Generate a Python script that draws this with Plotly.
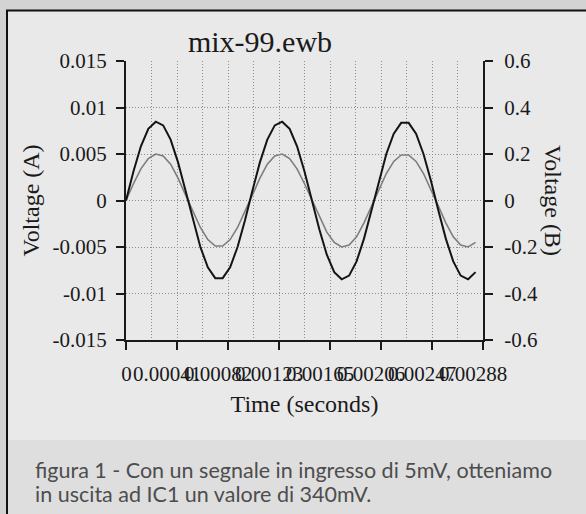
import plotly.graph_objects as go

# Simulation time samples (s)
time_s = [0.0, 0.00006, 0.00012, 0.00018, 0.00024, 0.00030, 0.00036, 0.00042,
          0.00048, 0.00054, 0.00060, 0.00066, 0.00072, 0.00078, 0.00084, 0.00090,
          0.00096, 0.00102, 0.00108, 0.00114, 0.00120, 0.00126, 0.00132, 0.00138,
          0.00144, 0.00150, 0.00156, 0.00162, 0.00168, 0.00174, 0.00180, 0.00186,
          0.00192, 0.00198, 0.00204, 0.00210, 0.00216, 0.00222, 0.00228, 0.00234,
          0.00240, 0.00246, 0.00252, 0.00258, 0.00264, 0.00270, 0.00276, 0.00282]

# Channel A: input signal (left axis, V)
voltage_a = [0.0, 0.0018, 0.0034, 0.0045, 0.0050, 0.0048, 0.0039, 0.0024,
             0.0006, -0.0012, -0.0029, -0.0042, -0.0049, -0.0049, -0.0042, -0.0029,
             -0.0012, 0.0006, 0.0024, 0.0039, 0.0048, 0.0050, 0.0045, 0.0034,
             0.0018, 0.0000, -0.0018, -0.0034, -0.0045, -0.0050, -0.0048, -0.0039,
             -0.0024, -0.0006, 0.0012, 0.0029, 0.0042, 0.0049, 0.0049, 0.0042,
             0.0029, 0.0012, -0.0006, -0.0024, -0.0039, -0.0048, -0.0050, -0.0045]

# Channel B: IC1 output (right axis, V)
voltage_b = [0.0, 0.125, 0.233, 0.308, 0.339, 0.323, 0.262, 0.164,
             0.043, -0.085, -0.200, -0.287, -0.334, -0.334, -0.287, -0.200,
             -0.085, 0.043, 0.164, 0.262, 0.323, 0.339, 0.308, 0.233,
             0.125, 0.000, -0.125, -0.233, -0.308, -0.339, -0.323, -0.262,
             -0.164, -0.043, 0.085, 0.200, 0.287, 0.334, 0.334, 0.287,
             0.200, 0.085, -0.043, -0.164, -0.262, -0.323, -0.339, -0.308]

x_tick_vals = [0.0, 0.00041143, 0.00082286, 0.00123429, 0.00164571, 0.00205714,
               0.00246857, 0.00288]
x_tick_text = ["\u00a0\u00a0\u00a0\u00a00", "0.00041", "0.00082", "0.00123", "0.00165",
               "0.00206", "0.00247", "0.00288"]
x_minor_vals = [0.00020571, 0.00061714, 0.00102857, 0.00144, 0.00185143,
                0.00226286, 0.00267429]

ya_tick_vals = [0.015, 0.01, 0.005, 0.0, -0.005, -0.01, -0.015]
ya_tick_text = ["0.015", "0.01", "0.005", "0", "-0.005", "-0.01", "-0.015"]
yb_tick_vals = [0.6, 0.4, 0.2, 0.0, -0.2, -0.4, -0.6]
yb_tick_text = ["0.6", "0.4", "0.2", "0", "-0.2", "-0.4", "-0.6"]

caption_lines = ["figura 1 - Con un segnale in ingresso di 5mV, otteniamo",
                 "in uscita ad IC1 un valore di 340mV."]

W, H = 586, 514
L, R, T, B = 126, 483, 61, 340          # plot-area pixel box
PW, PH = R - L, B - T


def px(x):
    return (x - L) / PW


def py(y):
    return (B - y) / PH


serif = "Liberation Serif, Times New Roman, serif"
ink = "#1a1a1a"
grid = "#8c8c8c"
dots = "1px,2px"

fig = go.Figure()
fig.add_trace(go.Scatter(x=time_s, y=voltage_a, mode="lines", name="Voltage (A)",
                         line=dict(color="#7d7d7d", width=1.6), yaxis="y"))
fig.add_trace(go.Scatter(x=time_s, y=voltage_b, mode="lines", name="Voltage (B)",
                         line=dict(color="#141414", width=2), yaxis="y2"))

axis_common = dict(showline=True, linecolor=ink, linewidth=2, ticks="outside",
                   ticklen=8, tickwidth=1.5, tickcolor=ink, zeroline=False,
                   tickfont=dict(family=serif, size=21, color=ink))

fig.update_layout(
    width=W, height=H,
    margin=dict(l=L, r=W - R, t=T, b=H - B, pad=0),
    paper_bgcolor="#e9e9e9", plot_bgcolor="rgba(0,0,0,0)",
    showlegend=False,
    title=dict(text="mix-99.ewb", x=260 / W, xref="container", xanchor="center",
               y=1 - 41 / H, yref="container", yanchor="middle",
               font=dict(family=serif, size=30, color=ink)),
    xaxis=dict(range=[0, 0.00288], tickvals=x_tick_vals, ticktext=x_tick_text,
               tickangle=0, ticklabelshift=-10, ticklabelstandoff=6,
               showgrid=True, gridcolor=grid, gridwidth=1, griddash=dots,
               minor=dict(tickvals=x_minor_vals, showgrid=True, gridcolor=grid,
                          gridwidth=1, griddash=dots, ticks=""),
               title=dict(text="Time (seconds)", standoff=10,
                          font=dict(family=serif, size=24, color=ink)),
               **axis_common),
    yaxis=dict(range=[-0.015, 0.015], tickvals=ya_tick_vals, ticktext=ya_tick_text,
               ticklabelstandoff=5,
               showgrid=True, gridcolor=grid, gridwidth=1, griddash=dots,
               title=dict(text="Voltage (A)", standoff=6,
                          font=dict(family=serif, size=24, color=ink)),
               **axis_common),
    yaxis2=dict(range=[-0.6, 0.6], tickvals=yb_tick_vals, ticktext=yb_tick_text,
                ticklabelstandoff=7,
                overlaying="y", side="right", showgrid=False, **axis_common),
)

# Right-hand axis title, reading downwards
fig.add_annotation(text="Voltage (B)", textangle=90, showarrow=False,
                   xref="paper", yref="paper", x=px(553), y=py(200),
                   xanchor="center", yanchor="middle",
                   font=dict(family=serif, size=24, color=ink))

# Page surround, frame and caption band
shapes = [
    dict(type="rect", x0=px(0), x1=px(W), y0=py(10), y1=py(0),
         fillcolor="#d3d3d3", line_width=0),
    dict(type="rect", x0=px(0), x1=px(6), y0=py(H), y1=py(10),
         fillcolor="#d3d3d3", line_width=0),
    dict(type="rect", x0=px(8), x1=px(W), y0=py(H), y1=py(440),
         fillcolor="#dedede", line_width=0),
    dict(type="line", x0=px(6), x1=px(W), y0=py(10.5), y1=py(10.5),
         line=dict(color="#111111", width=2)),
    dict(type="line", x0=px(7), x1=px(7), y0=py(10), y1=py(H),
         line=dict(color="#111111", width=2)),
]
for s in shapes:
    s.update(xref="paper", yref="paper", layer="below")
    fig.add_shape(**s)

for line_text, y_px in zip(caption_lines, [470, 494]):
    fig.add_annotation(text=line_text, showarrow=False, xref="paper", yref="paper",
                       x=px(33), y=py(y_px), xanchor="left", yanchor="middle",
                       font=dict(family="Lato, sans-serif", size=21.5, color="#4d4d4d"))

fig.write_html("out.html")
